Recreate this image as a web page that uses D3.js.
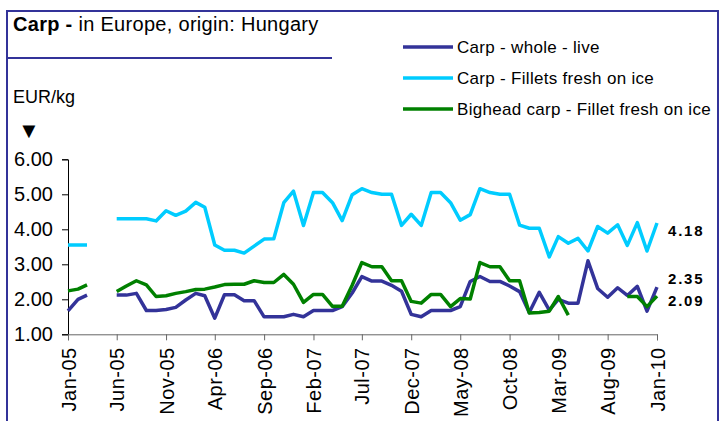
<!DOCTYPE html>
<html>
<head>
<meta charset="utf-8">
<script src="https://cdn.jsdelivr.net/npm/d3@7"></script>
<style>
  body { margin: 0; background: #fff; }
  svg { font-family: "Liberation Sans", Arial, sans-serif; }
</style>
</head>
<body>
<svg id="chart" width="720" height="421"></svg>
<script>
// monthly prices, Jan-05 .. Jan-10 (null = no quote)
const months = d3.timeMonth.range(new Date(2005, 0, 1), new Date(2010, 1, 1));
const tickLabels = ["Jan-05", "Jun-05", "Nov-05", "Apr-06", "Sep-06", "Feb-07", "Jul-07",
                    "Dec-07", "May-08", "Oct-08", "Mar-09", "Aug-09", "Jan-10"];
const yTicks = [1, 2, 3, 4, 5, 6];

const wholeLive = [1.67, 2.00, 2.12, null, null, 2.12, 2.12, 2.17, 1.68, 1.68,
  1.71, 1.77, 1.98, 2.17, 2.10, 1.46, 2.13, 2.13, 1.96, 1.96,
  1.50, 1.50, 1.50, 1.57, 1.50, 1.68, 1.68, 1.68, 1.79, 2.18,
  2.65, 2.52, 2.52, 2.40, 2.23, 1.57, 1.50, 1.68, 1.68, 1.68,
  1.79, 2.51, 2.65, 2.51, 2.51, 2.38, 2.22, 1.62, 2.20, 1.69,
  2.00, 1.89, 1.89, 3.10, 2.31, 2.06, 2.33, 2.11, 2.37, 1.66, 2.35];

const filletsIce = [3.55, 3.55, 3.55, null, null, 4.30, 4.30, 4.30, 4.30, 4.24,
  4.53, 4.40, 4.52, 4.77, 4.63, 3.55, 3.40, 3.40, 3.32, 3.52,
  3.72, 3.73, 4.76, 5.09, 4.11, 5.05, 5.05, 4.76, 4.25, 4.99,
  5.16, 5.05, 5.00, 5.00, 4.11, 4.43, 4.11, 5.05, 5.05, 4.76,
  4.26, 4.42, 5.16, 5.05, 5.00, 5.00, 4.12, 4.03, 4.03, 3.21,
  3.79, 3.60, 3.74, 3.38, 4.08, 3.89, 4.13, 3.54, 4.19, 3.38, 4.18];

const bighead = [2.24, 2.29, 2.41, null, null, 2.22, 2.38, 2.53, 2.41, 2.08,
  2.10, 2.17, 2.22, 2.28, 2.29, 2.35, 2.42, 2.43, 2.43, 2.53,
  2.48, 2.48, 2.71, 2.43, 1.91, 2.14, 2.14, 1.80, 1.80, 2.40,
  3.05, 2.93, 2.93, 2.53, 2.53, 1.94, 1.89, 2.14, 2.14, 1.79,
  2.02, 2.01, 3.05, 2.93, 2.93, 2.53, 2.53, 1.61, 1.62, 1.66,
  2.08, 1.55, null, null, null, null, null, 2.08, 2.08, 1.79, 2.09];

const series = [
  { name: "Carp - whole - live", values: wholeLive, color: "#333399", last: "2.35" },
  { name: "Carp - Fillets fresh on ice", values: filletsIce, color: "#00ccff", last: "4.18" },
  { name: "Bighead carp - Fillet fresh on ice", values: bighead, color: "#008000", last: "2.09" }
];

const svg = d3.select("#chart");
const navy = "#333399";

// frame + title
svg.append("rect").attr("x", 7).attr("y", 11).attr("width", 711).attr("height", 430)
  .attr("fill", "none").attr("stroke", navy).attr("stroke-width", 2);
svg.append("line").attr("x1", 7).attr("x2", 332).attr("y1", 58).attr("y2", 58)
  .attr("stroke", navy).attr("stroke-width", 2);

const title = svg.append("text").attr("x", 13).attr("y", 31)
  .attr("font-size", 20).attr("letter-spacing", 0.3);
title.append("tspan").attr("font-weight", "bold").text("Carp -");
title.append("tspan").text(" in Europe, origin: Hungary");

svg.append("text").attr("x", 13).attr("y", 103).attr("font-size", 18).text("EUR/kg");
svg.append("text").attr("x", 18).attr("y", 138).attr("font-size", 22).text("▼");

const x = d3.scaleTime()
  .domain([months[0], months[months.length - 1]])
  .range([68, 657]);
const y = d3.scaleLinear().domain([1, 6]).range([334.3, 159.3]);

// y axis
const yAxis = svg.append("g").attr("transform", "translate(68,0)")
  .call(d3.axisLeft(y).tickValues(yTicks).tickSize(6).tickFormat(d3.format(".2f")));
yAxis.selectAll("text").attr("font-size", 20).attr("fill", "#000").attr("x", -15)
  .style("font-family", "Liberation Sans, Arial, sans-serif");
yAxis.selectAll("line, path").attr("stroke", "#000");

// x axis
const tickDates = tickLabels.map(s => d3.timeParse("%b-%y")(s));
const xAxis = svg.append("g").attr("transform", "translate(0,334.3)")
  .call(d3.axisBottom(x).tickValues(tickDates).tickSize(6).tickFormat(d3.timeFormat("%b-%y")));
xAxis.selectAll("line, path").attr("stroke", "#666");
xAxis.selectAll("text")
  .attr("font-size", 20).attr("letter-spacing", 0.5).attr("fill", "#000")
  .style("font-family", "Liberation Sans, Arial, sans-serif")
  .attr("text-anchor", "end")
  .attr("transform", "rotate(-90)")
  .attr("x", -13).attr("y", 0).attr("dy", "0.35em");

// lines
const line = d3.line()
  .defined(d => d.v != null)
  .x(d => x(d.date))
  .y(d => y(d.v));

series.forEach(s => {
  const pts = s.values.map((v, i) => ({ date: months[i], v: v }));
  svg.append("path").datum(pts)
    .attr("fill", "none").attr("stroke", s.color).attr("stroke-width", 3.5)
    .attr("stroke-linejoin", "round")
    .attr("d", line);
});

// end labels
const endY = { "4.18": 236, "2.35": 284, "2.09": 306 };
series.forEach(s => {
  svg.append("text").attr("x", 668).attr("y", endY[s.last])
    .attr("font-size", 15).attr("font-weight", "bold").attr("letter-spacing", 1.8)
    .text(s.last);
});

// legend
const legend = svg.append("g");
series.forEach((s, i) => {
  const ly = 47 + i * 31;
  legend.append("line").attr("x1", 403).attr("x2", 453).attr("y1", ly).attr("y2", ly)
    .attr("stroke", s.color).attr("stroke-width", 3.5);
  legend.append("text").attr("x", 457).attr("y", ly + 6).attr("font-size", 17)
    .attr("letter-spacing", 0.3)
    .text(s.name);
});
</script>
</body>
</html>
